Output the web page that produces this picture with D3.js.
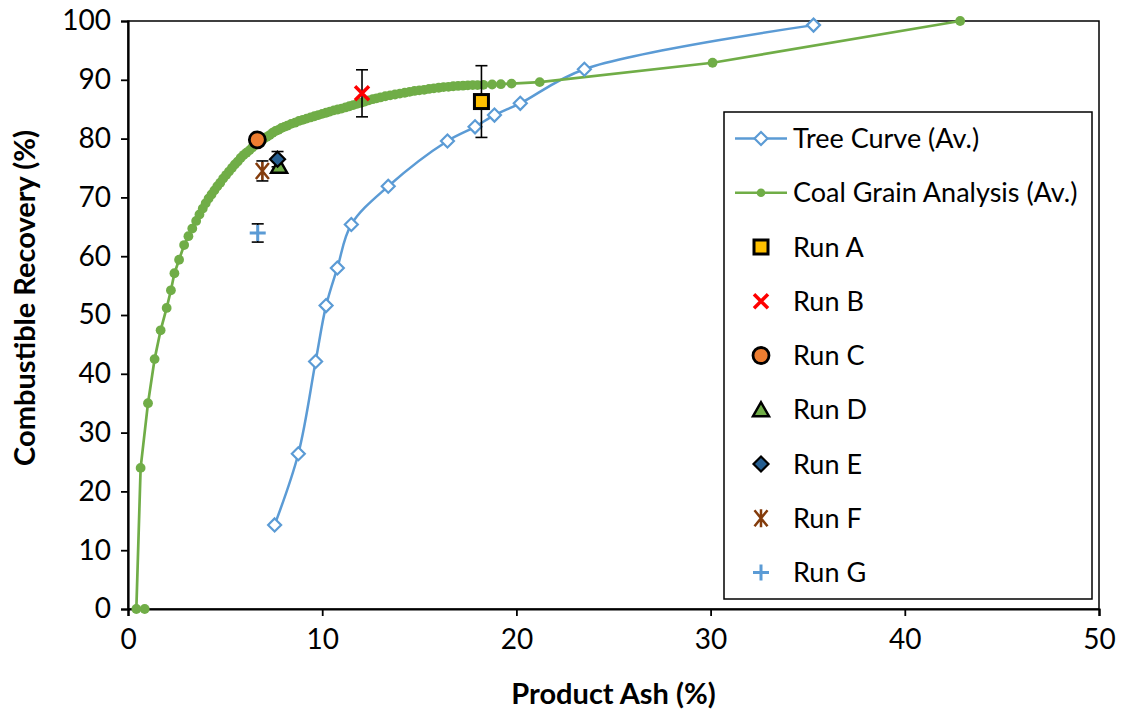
<!DOCTYPE html>
<html>
<head>
<meta charset="utf-8">
<script src="https://cdn.jsdelivr.net/npm/d3@7"></script>
<style>
  body { margin: 0; background: #fff; }
  text { font-family: Lato, "Open Sans", sans-serif; fill: #000; }
</style>
</head>
<body>
<div id="chart"></div>
<script>
// tree curve (average)
const treeAsh = [7.55, 8.77, 9.66, 10.2, 10.78, 11.5, 13.4, 16.45, 17.87, 18.87, 20.2, 23.5, 35.3];
const treeRec = [14.3, 26.4, 42.1, 51.6, 58.0, 65.4, 71.9, 79.6, 82.0, 84.0, 86.0, 91.8, 99.3];

// coal grain analysis (average)
const cgaAsh = [0.86, 0.43, 0.65, 1.03, 1.37, 1.68, 1.99, 2.21, 2.39, 2.63, 2.89, 3.11, 3.31, 3.51, 3.68, 3.85,
  4.0, 4.15, 4.3, 4.45, 4.6, 4.75, 4.9, 5.05, 5.2, 5.35, 5.5, 5.65, 5.8, 5.95, 6.1, 6.25, 6.4, 6.55, 6.7, 6.85,
  7.0, 7.15, 7.3, 7.45, 7.6, 7.75, 7.9, 8.05, 8.2, 8.4, 8.6, 8.8, 9.0, 9.2, 9.4, 9.6, 9.8, 10.0, 10.2, 10.4,
  10.6, 10.8, 11.0, 11.2, 11.4, 11.6, 11.8, 12.0, 12.2, 12.4, 12.6, 12.8, 13.0, 13.25, 13.5, 13.75, 14.0,
  14.25, 14.5, 14.75, 15.0, 15.25, 15.5, 15.75, 16.0, 16.25, 16.5, 16.75, 17.0, 17.25, 17.5, 17.75, 18.0,
  18.3, 18.75, 19.2, 19.75, 21.2, 30.1, 42.85];
const cgaRec = [0, 0, 24.0, 35.0, 42.5, 47.4, 51.2, 54.2, 57.1, 59.4, 61.9, 63.4, 64.7, 66.0, 67.1, 68.1,
  69.0, 69.8, 70.5, 71.2, 71.9, 72.5, 73.2, 73.8, 74.4, 75.0, 75.6, 76.1, 76.7, 77.2, 77.6, 78.0, 78.5, 78.9, 79.3, 79.6,
  80.0, 80.3, 80.6, 81.0, 81.3, 81.5, 81.8, 82.0, 82.2, 82.5, 82.7, 83.0, 83.2, 83.4, 83.6, 83.8, 84.0, 84.2, 84.4, 84.6,
  84.8, 84.95, 85.1, 85.3, 85.5, 85.7, 85.9, 86.1, 86.3, 86.5, 86.7, 86.85, 87.0, 87.2, 87.35, 87.5, 87.65,
  87.8, 87.95, 88.1, 88.2, 88.3, 88.45, 88.55, 88.65, 88.75, 88.8, 88.9, 88.95, 89.0, 89.05, 89.1, 89.1,
  89.15, 89.2, 89.25, 89.35, 89.6, 92.9, 100];

// flotation runs
const runNames = ["Run A", "Run B", "Run C", "Run D", "Run E", "Run F", "Run G"];
const runAsh = [18.2, 12.05, 6.66, 7.78, 7.7, 6.92, 6.68];
const runRec = [86.3, 87.7, 79.8, 75.3, 76.5, 74.5, 63.95];
const runErr = [6.1, 4.0, 0, 0, 1.3, 1.7, 1.55];

const xTicks = [0, 10, 20, 30, 40, 50];
const yTicks = [0, 10, 20, 30, 40, 50, 60, 70, 80, 90, 100];

const blue = "#5B9BD5", green = "#70AD47";

var width = 1121, height = 713;

const svg = d3.select("#chart").append("svg")
  .attr("width", width)
  .attr("height", height);

const x = d3.scaleLinear().domain([0, 50]).range([128, 1099]);
const y = d3.scaleLinear().domain([0, 100]).range([609, 21]);

// plot frame
svg.append("rect")
  .attr("x", x(0)).attr("y", y(100))
  .attr("width", x(50) - x(0)).attr("height", y(0) - y(100))
  .attr("fill", "none").attr("stroke", "#000").attr("stroke-width", 1.5);

// axes
svg.append("g")
  .attr("transform", "translate(0," + y(0) + ")")
  .call(d3.axisBottom(x).tickValues(xTicks).tickSize(7).tickPadding(13))
  .call((g) => {
    g.attr("font-family", null).attr("font-size", 28);
    g.select(".domain").attr("stroke", "#000").attr("stroke-width", 2.2);
    g.selectAll(".tick line").attr("stroke", "#000").attr("stroke-width", 1.8);
  });

svg.append("g")
  .attr("transform", "translate(" + x(0) + ",0)")
  .call(d3.axisLeft(y).tickValues(yTicks).tickSize(7).tickPadding(10))
  .call((g) => {
    g.attr("font-family", null).attr("font-size", 28);
    g.select(".domain").attr("stroke", "#000").attr("stroke-width", 2.2);
    g.selectAll(".tick line").attr("stroke", "#000").attr("stroke-width", 1.8);
  });

// axis titles
svg.append("text")
  .attr("x", (x(0) + x(50)) / 2).attr("y", 704)
  .attr("text-anchor", "middle")
  .attr("font-size", 29).attr("font-weight", "bold")
  .text("Product Ash (%)");

svg.append("text")
  .attr("transform", "translate(35,298) rotate(-90)")
  .attr("text-anchor", "middle")
  .attr("font-size", 29).attr("font-weight", "bold")
  .text("Combustible Recovery (%)");

const treeData = treeAsh.map((d, i) => [d, treeRec[i]]);
const cgaData = cgaAsh.map((d, i) => [d, cgaRec[i]]);

const diamond = (r) => "M0," + (-r) + "L" + r + ",0L0," + r + "L" + (-r) + ",0Z";

// tree curve
svg.append("path")
  .datum(treeData)
  .attr("fill", "none").attr("stroke", blue).attr("stroke-width", 2.5)
  .attr("d", d3.line().x((d) => x(d[0])).y((d) => y(d[1])).curve(d3.curveCatmullRom.alpha(0.5)));

// coal grain analysis curve
svg.append("path")
  .datum(cgaData)
  .attr("fill", "none").attr("stroke", green).attr("stroke-width", 2.7)
  .attr("d", d3.line().x((d) => x(d[0])).y((d) => y(d[1])));

svg.selectAll(".cga-dot")
  .data(cgaData)
  .enter()
  .append("circle")
  .attr("class", "cga-dot")
  .attr("cx", (d) => x(d[0]))
  .attr("cy", (d) => y(d[1]))
  .attr("r", 4.9)
  .attr("fill", green);

svg.selectAll(".tree-dot")
  .data(treeData)
  .enter()
  .append("path")
  .attr("class", "tree-dot")
  .attr("transform", (d) => "translate(" + x(d[0]) + "," + y(d[1]) + ")")
  .attr("d", diamond(6.5))
  .attr("fill", "#fff").attr("stroke", blue).attr("stroke-width", 2.2);

// marker for each run
function drawMarker(g, i) {
  if (i == 0) {
    g.append("rect").attr("x", -7).attr("y", -7).attr("width", 14).attr("height", 14)
      .attr("fill", "#FFC000").attr("stroke", "#000").attr("stroke-width", 3);
  } else if (i == 1) {
    g.append("path").attr("d", "M-7,-7L7,7M-7,7L7,-7")
      .attr("stroke", "#FF0000").attr("stroke-width", 3.5).attr("fill", "none");
  } else if (i == 2) {
    g.append("circle").attr("r", 8)
      .attr("fill", "#ED7D31").attr("stroke", "#000").attr("stroke-width", 2.8);
  } else if (i == 3) {
    g.append("path").attr("d", "M0,-7.5L8,6.5L-8,6.5Z")
      .attr("fill", green).attr("stroke", "#000").attr("stroke-width", 2.5);
  } else if (i == 4) {
    g.append("path").attr("d", diamond(7.5))
      .attr("fill", "#255E91").attr("stroke", "#000").attr("stroke-width", 2.2);
  } else if (i == 5) {
    g.append("path").attr("d", "M-6.5,-8L6.5,8M-6.5,8L6.5,-8M0,-9L0,9")
      .attr("stroke", "#843C0C").attr("stroke-width", 2.5).attr("fill", "none");
  } else {
    g.append("path").attr("d", "M-8,0L8,0M0,-8L0,8")
      .attr("stroke", blue).attr("stroke-width", 3).attr("fill", "none");
  }
}

// error bars
runAsh.forEach((a, i) => {
  if (runErr[i] <= 0) return;
  const cx = x(a), y1 = y(runRec[i] + runErr[i]), y2 = y(runRec[i] - runErr[i]);
  const eb = svg.append("g").attr("stroke", "#000").attr("stroke-width", 1.6);
  eb.append("line").attr("x1", cx).attr("x2", cx).attr("y1", y1).attr("y2", y2);
  eb.append("line").attr("x1", cx - 6).attr("x2", cx + 6).attr("y1", y1).attr("y2", y1);
  eb.append("line").attr("x1", cx - 6).attr("x2", cx + 6).attr("y1", y2).attr("y2", y2);
});

// draw runs; F and G first so D, E sit above
[6, 5, 1, 0, 3, 4, 2].forEach((i) => {
  const g = svg.append("g")
    .attr("transform", "translate(" + x(runAsh[i]) + "," + y(runRec[i]) + ")");
  drawMarker(g, i);
});

// legend
const legend = svg.append("g").attr("transform", "translate(724,112)");
legend.append("rect")
  .attr("width", 368).attr("height", 487)
  .attr("fill", "#fff").attr("stroke", "#000").attr("stroke-width", 1.5);

const rowY = (k) => 26.5 + k * 54.25;

const l0 = legend.append("g").attr("transform", "translate(37," + rowY(0) + ")");
l0.append("line").attr("x1", -26).attr("x2", 26).attr("stroke", blue).attr("stroke-width", 2.5);
l0.append("path").attr("d", diamond(6.5)).attr("fill", "#fff").attr("stroke", blue).attr("stroke-width", 2.2);

const l1 = legend.append("g").attr("transform", "translate(37," + rowY(1) + ")");
l1.append("line").attr("x1", -26).attr("x2", 26).attr("stroke", green).attr("stroke-width", 2.5);
l1.append("circle").attr("r", 4.3).attr("fill", green);

runNames.forEach((n, i) => {
  const g = legend.append("g").attr("transform", "translate(37," + rowY(i + 2) + ")");
  drawMarker(g, i);
});

const labels = ["Tree Curve (Av.)", "Coal Grain Analysis (Av.)"].concat(runNames);
legend.selectAll(".leg-text")
  .data(labels)
  .enter()
  .append("text")
  .attr("class", "leg-text")
  .attr("x", 69)
  .attr("y", (d, i) => rowY(i))
  .attr("dy", "0.36em")
  .attr("font-size", 27)
  .text((d) => d);
</script>
</body>
</html>
